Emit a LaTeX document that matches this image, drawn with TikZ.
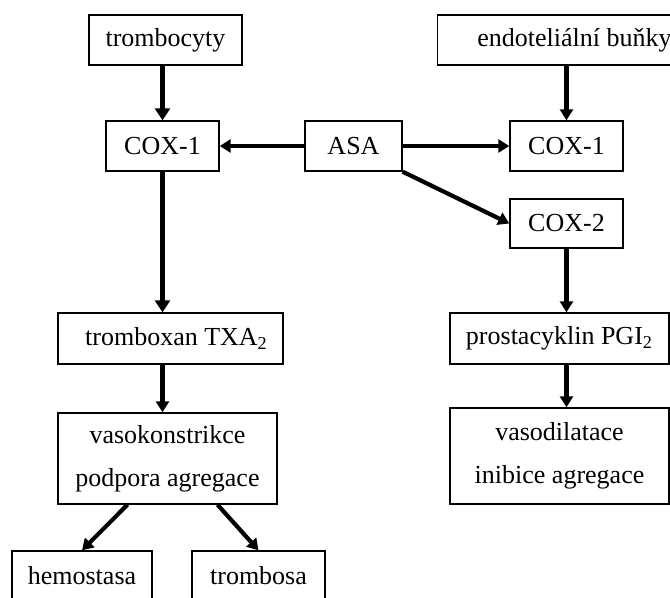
\documentclass[tikz,border=0pt]{standalone}
\usepackage{fontspec}
\setmainfont{Liberation Serif}
\usetikzlibrary{calc,arrows.meta}
\tikzset{
  box/.style={draw, line width=0.7pt, inner sep=0pt, align=center,
    font=\fontsize{13}{21.5}\selectfont},
  sipka/.style={-{Triangle[length=5.5pt,width=6.5pt]}, line width=2.1pt},
  silna/.style={-{Triangle[length=6pt,width=7.5pt]}, line width=2.8pt},
}
\begin{document}
\begin{tikzpicture}[x=0.5pt,y=-0.5pt]
	\useasboundingbox (0,0) rectangle (670,598);
	% trombocyty - leva strana
	\node[box, minimum width=153*0.5pt, minimum height=50*0.5pt] (tromb) at (165.5,40) {trombocyty};
	\node[box, minimum width=113*0.5pt, minimum height=50*0.5pt] (cox1L) at (162.5,146) {COX-1};
	\node[box, minimum width=225*0.5pt, minimum height=51*0.5pt] (txa) at (170.5,338.5) {\hspace{6pt}tromboxan TXA\textsubscript{2}};
	\node[box, minimum width=219*0.5pt, minimum height=91*0.5pt] (vaso) at (167.5,458.5) {vasokonstrikce\\podpora agregace};
	\node[box, minimum width=140*0.5pt, minimum height=50*0.5pt] (hemo) at (82,576) {hemostasa};
	\node[box, minimum width=133*0.5pt, minimum height=50*0.5pt] (trombosa) at (258.5,576) {trombosa};
	% ASA
	\node[box, minimum width=97*0.5pt, minimum height=50*0.5pt] (asa) at (353.5,146) {ASA};
	% endotel - prava strana
	\node[box, minimum width=229*0.5pt, minimum height=50*0.5pt] (endo) at (554.5,40) {\hspace{20pt}endoteliální buňky};
	\node[box, minimum width=113*0.5pt, minimum height=50*0.5pt] (cox1R) at (566.5,146) {COX-1};
	\node[box, minimum width=113*0.5pt, minimum height=49*0.5pt] (cox2) at (566.5,223.5) {COX-2};
	\node[box, minimum width=219*0.5pt, minimum height=51*0.5pt] (pgi) at (559.5,338.5) {prostacyklin PGI\textsubscript{2}};
	\node[box, minimum width=219*0.5pt, minimum height=96*0.5pt] (vasod) at (559.5,456) {vasodilatace\\inibice agregace};
	% sipky
	\draw[silna] (tromb.south -| cox1L) -- (cox1L);
	\draw[silna] (cox1L) -- (cox1L |- txa.north);
	\draw[sipka] (txa.south -| cox1L) -- (vaso.north -| cox1L);
	\draw[sipka] ($(vaso.south)+(-40,0)$) -- (hemo.north);
	\draw[sipka] ($(vaso.south)+(50,0)$) -- (trombosa.north);
	\draw[sipka] (asa) -- (cox1L);
	\draw[sipka] (asa) -- (cox1R);
	\draw[sipka] (asa.south east) -- (cox2.west);
	\draw[sipka] (endo.south -| cox1R) -- (cox1R);
	\draw[sipka] (cox2) -- (cox2 |- pgi.north);
	\draw[sipka] (pgi.south -| cox2) -- (vasod.north -| cox2);
\end{tikzpicture}
\end{document}
